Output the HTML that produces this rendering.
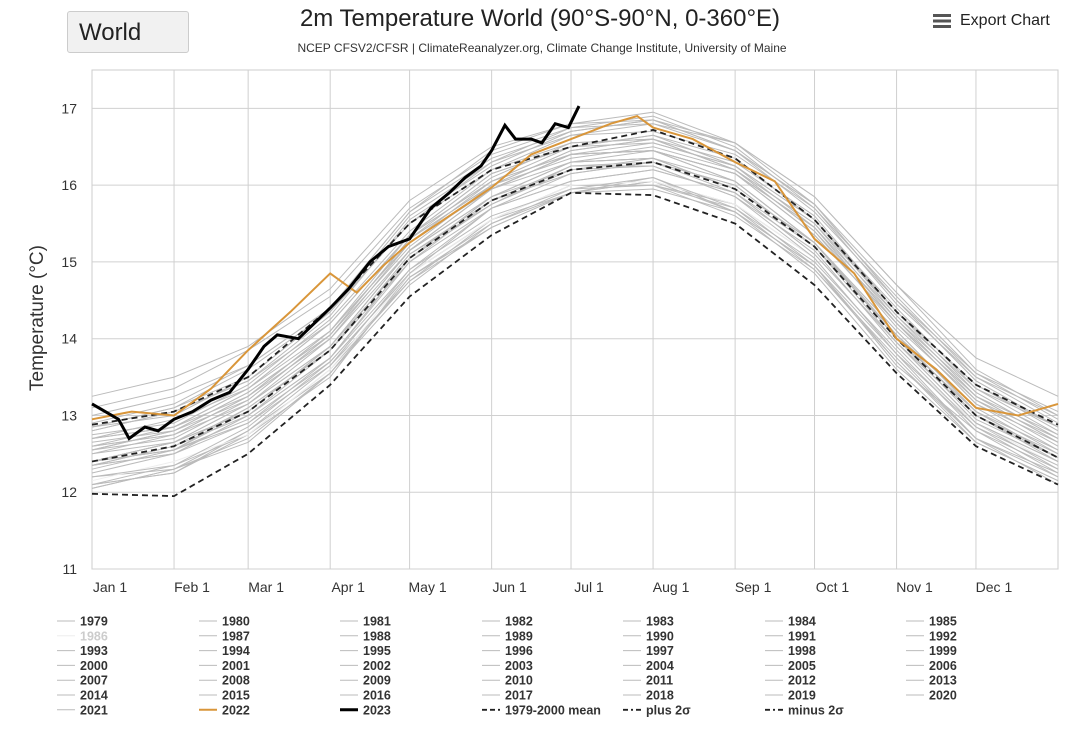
<!DOCTYPE html>
<html><head><meta charset="utf-8">
<style>
body{margin:0;background:#fff;font-family:"Liberation Sans",sans-serif;}
#wrap{position:relative;width:1080px;height:738px;overflow:hidden;}
</style></head>
<body>
<div id="wrap">
<div style="position:absolute;left:67px;top:11px;width:122px;height:42px;background:#f1f1f1;border:1px solid #ccc;border-radius:3px;font-size:24px;line-height:42px;padding-left:11px;box-sizing:border-box;color:#222">World</div>
<div style="position:absolute;left:0;width:1080px;top:5px;text-align:center;font-size:24px;color:#222;">2m Temperature World (90°S-90°N, 0-360°E)</div>
<div style="position:absolute;left:0;width:1084px;top:41px;text-align:center;font-size:12px;color:#333;">NCEP CFSV2/CFSR | ClimateReanalyzer.org, Climate Change Institute, University of Maine</div>
<div style="position:absolute;left:933px;top:12px;font-size:16px;color:#222;display:flex;align-items:center;">
<svg width="18" height="14" style="margin-right:9px"><rect y="0" width="18" height="3" fill="#555"/><rect y="5.5" width="18" height="3" fill="#555"/><rect y="11" width="18" height="3" fill="#555"/></svg>Export Chart</div>
<svg id="chart" width="1080" height="738" style="position:absolute;left:0;top:0"></svg>
</div>
<script>
const monthLabels=["Jan 1","Feb 1","Mar 1","Apr 1","May 1","Jun 1","Jul 1","Aug 1","Sep 1","Oct 1","Nov 1","Dec 1"];
const monthDays=[0,31,59,90,120,151,181,212,243,273,304,334,365];
const yTicks=[11,12,13,14,15,16,17];
const meanVals=[12.4,12.6,13.05,13.85,15.05,15.8,16.2,16.3,15.95,15.2,14.0,13.0,12.45];
const plusVals=[12.88,13.05,13.5,14.4,15.5,16.2,16.5,16.72,16.35,15.55,14.35,13.4,12.88];
const minusVals=[11.98,11.95,12.5,13.4,14.55,15.35,15.9,15.87,15.5,14.7,13.55,12.6,12.1];
const days2022=[0,15,31,45,59,75,90,100,110,120,135,151,166,181,196,206,212,227,243,258,273,288,304,319,334,350,365];
const vals2022=[12.95,13.05,13.0,13.35,13.85,14.35,14.85,14.6,14.95,15.25,15.6,15.97,16.4,16.6,16.8,16.9,16.75,16.6,16.3,16.05,15.3,14.85,14.0,13.6,13.1,13.0,13.15];
const days2023=[0,5,10,14,20,25,31,38,45,52,59,65,70,78,90,97,105,112,120,128,135,141,147,151,156,160,166,170,175,180,184];
const vals2023=[13.15,13.05,12.95,12.7,12.85,12.8,12.95,13.05,13.2,13.3,13.6,13.9,14.05,14.0,14.4,14.65,15.0,15.2,15.3,15.7,15.9,16.1,16.25,16.45,16.78,16.6,16.6,16.55,16.8,16.75,17.03];
const grayYears=[1979,1980,1981,1982,1983,1984,1985,1986,1987,1988,1989,1990,1991,1992,1993,1994,1995,1996,1997,1998,1999,2000,2001,2002,2003,2004,2005,2006,2007,2008,2009,2010,2011,2012,2013,2014,2015,2016,2017,2018,2019,2020,2021];
const grayAnoms=[
[-0.35,-0.3,-0.4,-0.3,-0.35,-0.3,-0.25,-0.3,-0.35,-0.3,-0.3,-0.35,-0.3],
[-0.3,-0.25,-0.3,-0.35,-0.2,-0.25,-0.3,-0.2,-0.3,-0.25,-0.35,-0.2,-0.25],
[-0.2,-0.3,-0.25,-0.2,-0.3,-0.25,-0.2,-0.3,-0.2,-0.25,-0.2,-0.3,-0.2],
[-0.3,-0.35,-0.25,-0.3,-0.25,-0.35,-0.3,-0.25,-0.2,-0.15,-0.2,-0.1,-0.15],
[0.0,-0.05,-0.1,-0.15,-0.2,-0.25,-0.2,-0.3,-0.25,-0.3,-0.25,-0.3,-0.35],
[-0.3,-0.35,-0.3,-0.25,-0.3,-0.35,-0.3,-0.25,-0.3,-0.35,-0.4,-0.35,-0.3],
[-0.35,-0.3,-0.35,-0.3,-0.25,-0.3,-0.3,-0.35,-0.3,-0.25,-0.3,-0.3,-0.25],
[-0.25,-0.2,-0.3,-0.25,-0.2,-0.25,-0.2,-0.25,-0.2,-0.15,-0.2,-0.1,-0.1],
[-0.05,-0.1,-0.05,-0.1,0.0,-0.05,0.05,0.0,0.05,0.0,-0.05,0.0,-0.05],
[0.0,0.05,0.0,0.05,0.1,0.05,0.0,-0.05,-0.1,-0.15,-0.2,-0.15,-0.2],
[-0.2,-0.25,-0.2,-0.15,-0.2,-0.1,-0.15,-0.1,-0.05,-0.1,-0.05,-0.1,-0.05],
[-0.05,0.0,0.05,0.0,0.05,-0.05,0.0,0.05,0.0,0.05,0.1,0.05,0.0],
[0.0,-0.05,0.05,0.0,0.05,0.0,0.05,-0.05,-0.1,-0.05,-0.1,-0.15,-0.1],
[-0.1,-0.05,-0.15,-0.2,-0.15,-0.2,-0.25,-0.2,-0.25,-0.2,-0.15,-0.2,-0.15],
[-0.15,-0.1,-0.15,-0.1,-0.15,-0.1,-0.15,-0.1,-0.05,-0.1,-0.05,-0.1,-0.05],
[-0.05,-0.1,-0.05,-0.1,-0.05,0.0,-0.05,0.0,0.05,0.0,0.05,0.1,0.05],
[0.1,0.05,0.1,0.05,0.1,0.05,0.1,0.05,0.0,0.05,0.0,-0.05,0.0],
[-0.05,0.0,-0.05,0.0,-0.05,-0.1,-0.05,0.0,-0.05,0.0,0.05,0.0,0.05],
[0.0,0.05,0.0,0.05,0.1,0.15,0.2,0.25,0.3,0.35,0.35,0.4,0.4],
[0.4,0.45,0.4,0.35,0.3,0.25,0.2,0.15,0.1,0.05,0.05,0.0,0.0],
[0.0,-0.05,0.0,0.05,0.0,0.05,0.1,0.05,0.0,0.05,0.0,0.05,0.0],
[0.0,0.05,0.0,0.05,0.0,0.05,0.1,0.05,0.1,0.05,0.1,0.05,0.1],
[0.1,0.15,0.1,0.15,0.1,0.15,0.2,0.15,0.2,0.15,0.2,0.15,0.2],
[0.2,0.25,0.3,0.25,0.2,0.25,0.2,0.15,0.2,0.25,0.3,0.25,0.2],
[0.25,0.2,0.25,0.2,0.15,0.2,0.15,0.2,0.25,0.3,0.25,0.2,0.25],
[0.2,0.15,0.2,0.15,0.2,0.15,0.1,0.15,0.2,0.25,0.2,0.25,0.3],
[0.3,0.25,0.3,0.35,0.3,0.25,0.3,0.25,0.3,0.25,0.2,0.25,0.2],
[0.15,0.2,0.15,0.2,0.25,0.2,0.25,0.3,0.25,0.3,0.35,0.3,0.25],
[0.3,0.25,0.2,0.25,0.2,0.15,0.2,0.15,0.1,0.05,0.0,0.05,0.0],
[0.0,0.05,0.1,0.05,0.1,0.15,0.2,0.15,0.2,0.15,0.2,0.15,0.1],
[0.15,0.2,0.25,0.2,0.25,0.3,0.35,0.3,0.35,0.4,0.35,0.4,0.35],
[0.45,0.5,0.45,0.5,0.45,0.4,0.35,0.3,0.25,0.2,0.15,0.2,0.15],
[0.15,0.1,0.15,0.2,0.25,0.2,0.25,0.3,0.25,0.2,0.25,0.3,0.25],
[0.2,0.15,0.2,0.25,0.3,0.35,0.3,0.35,0.4,0.35,0.3,0.35,0.3],
[0.3,0.35,0.3,0.35,0.3,0.35,0.3,0.35,0.3,0.35,0.4,0.35,0.4],
[0.35,0.3,0.35,0.4,0.35,0.4,0.45,0.4,0.45,0.5,0.45,0.5,0.55],
[0.45,0.5,0.55,0.5,0.45,0.5,0.45,0.5,0.6,0.65,0.7,0.75,0.8],
[0.85,0.9,0.85,0.8,0.75,0.7,0.6,0.55,0.5,0.55,0.5,0.45,0.4],
[0.5,0.55,0.6,0.55,0.6,0.55,0.5,0.55,0.6,0.55,0.5,0.55,0.5],
[0.4,0.45,0.4,0.45,0.5,0.45,0.5,0.55,0.5,0.55,0.6,0.55,0.6],
[0.6,0.65,0.6,0.55,0.6,0.65,0.6,0.65,0.6,0.65,0.7,0.6,0.55],
[0.7,0.75,0.8,0.7,0.65,0.6,0.55,0.5,0.5,0.45,0.5,0.45,0.4],
[0.45,0.4,0.45,0.5,0.55,0.5,0.55,0.6,0.55,0.5,0.55,0.5,0.45]
];
const NS="http://www.w3.org/2000/svg";
const svg=document.getElementById('chart');
const X0=92,X1=1058,Y0=70,Y1=569,YMIN=11,YMAX=17.5;
function xs(d){return X0+(X1-X0)*d/365;}
function ys(v){return Y1-(Y1-Y0)*(v-YMIN)/(YMAX-YMIN);}
function mk(tag,attrs,parent){const e=document.createElementNS(NS,tag);for(const k in attrs)e.setAttribute(k,attrs[k]);(parent||svg).appendChild(e);return e;}
function pts(ds,vs){return ds.map((d,i)=>xs(d).toFixed(1)+","+ys(vs[i]).toFixed(1)).join(" ");}
const bg=mk('rect',{x:X0,y:Y0,width:X1-X0,height:Y1-Y0,fill:'#fff',stroke:'#ccc'});


yTicks.forEach(t=>{
  const l=mk('line',{x1:X0,x2:X1,y1:ys(t),y2:ys(t),stroke:'#d0d0d0'});
  
  
  const tx=mk('text',{x:77,y:ys(t)+5,'text-anchor':'end','font-size':14,fill:'#333'});
  tx.textContent=t;
  
  
});
monthLabels.forEach((m,i)=>{
  const x=xs(monthDays[i]);
  if(i>0){const l=mk('line',{x1:x,x2:x,y1:Y0,y2:Y1,stroke:'#d0d0d0'});
  
  }
  const tx=mk('text',{x:x+18,y:592,'text-anchor':'middle','font-size':14,fill:'#333'});
  tx.textContent=m;
  
  
});
const yt=mk('text',{x:0,y:0,transform:'translate(43,318) rotate(-90)','text-anchor':'middle','font-size':19,fill:'#333'});
yt.textContent='Temperature (°C)';


grayYears.forEach((yr,i)=>{
  const vs=meanVals.map((m,j)=>m+grayAnoms[i][j]);
  const p=mk('polyline',{points:pts(monthDays,vs),fill:'none',stroke:yr===1986?'#eee':'#bbb','stroke-width':1});
  
  
});
[[meanVals,'mean-line'],[plusVals,'plus-2sigma-line'],[minusVals,'minus-2sigma-line']].forEach(([v,n])=>{
  const p=mk('polyline',{points:pts(monthDays,v),fill:'none',stroke:'#222','stroke-width':1.8,'stroke-dasharray':'6,4'});
  
  
});
const p22=mk('polyline',{points:pts(days2022,vals2022),fill:'none',stroke:'#d9963a','stroke-width':2});


const p23=mk('polyline',{points:pts(days2023,vals2023),fill:'none',stroke:'#000','stroke-width':3});


const legendItems=grayYears.map(String).concat(["2022","2023"]);
const extra=["1979-2000 mean","plus 2σ","minus 2σ"];
const colX=[57,199,340,482,623,765,906];
function legendEntry(label,i,style){
  const c=i%7,r=Math.floor(i/7);
  const x=colX[c],y=621+r*14.8;
  const g=mk('g',{});
  
  
  mk('line',Object.assign({x1:x,x2:x+18,y1:y,y2:y},style),g);
  const t=mk('text',{x:x+23,y:y+4.5,'font-size':12.5,'font-weight':'bold',fill:label==='1986'?'#ccc':'#333'},g);
  t.textContent=label;
}
legendItems.forEach((l,i)=>{
  let st={stroke:'#bbb','stroke-width':1};
  if(l==='1986')st={stroke:'#eee','stroke-width':1};
  if(l==='2022')st={stroke:'#d9963a','stroke-width':2};
  if(l==='2023')st={stroke:'#000','stroke-width':3};
  legendEntry(l,i,st);
});
extra.forEach((l,k)=>{
  legendEntry(l,legendItems.length+k,{stroke:'#222','stroke-width':1.8,'stroke-dasharray':k===0?'5,3':'5,3,2,3'});
});
</script>
</body></html>
